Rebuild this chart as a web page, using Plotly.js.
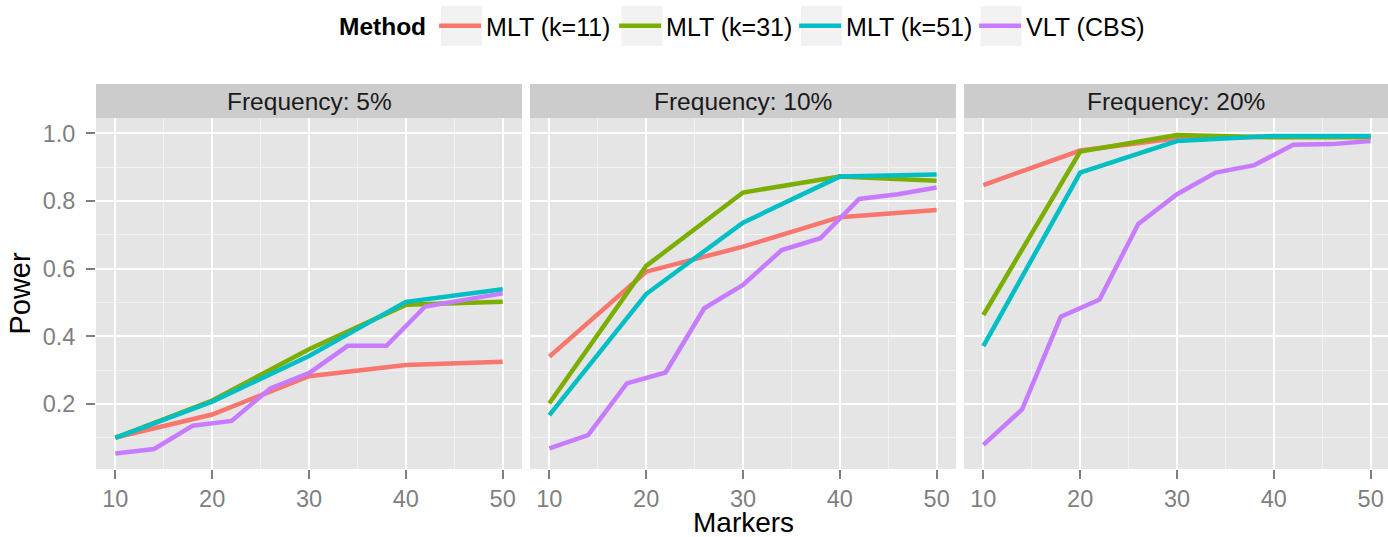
<!DOCTYPE html>
<html><head><meta charset="utf-8">
<script src="https://cdn.plot.ly/plotly-3.0.1.min.js"></script>
<style>html,body{margin:0;padding:0;background:#fff}</style>
</head><body><div id="chart" style="width:1388px;height:537px"></div>
<script>
// ---- data ----
const markersMLT = [10, 20, 30, 40, 50];
const markersVLT = [10, 14, 18, 22, 26, 30, 34, 38, 42, 46, 50];
const methods = ['MLT (k=11)', 'MLT (k=31)', 'MLT (k=51)', 'VLT (CBS)'];
const frequencies = ['Frequency: 5%', 'Frequency: 10%', 'Frequency: 20%'];
const xTicks = [10, 20, 30, 40, 50];

// Frequency 5%
const f5_k11 = [0.101, 0.169, 0.282, 0.315, 0.325];
const f5_k31 = [0.100, 0.210, 0.362, 0.493, 0.502];
const f5_k51 = [0.100, 0.207, 0.342, 0.502, 0.539];
const f5_vlt = [0.054, 0.067, 0.136, 0.150, 0.246, 0.291, 0.372, 0.372, 0.488, 0.507, 0.527];
// Frequency 10%
const f10_k11 = [0.340, 0.591, 0.665, 0.752, 0.773];
const f10_k31 = [0.202, 0.608, 0.825, 0.872, 0.860];
const f10_k51 = [0.167, 0.525, 0.736, 0.872, 0.878];
const f10_vlt = [0.069, 0.108, 0.261, 0.293, 0.483, 0.552, 0.655, 0.690, 0.806, 0.820, 0.840];
// Frequency 20%
const f20_k11 = [0.847, 0.949, 0.985, 0.990, 0.990];
const f20_k31 = [0.463, 0.946, 0.995, 0.988, 0.988];
const f20_k51 = [0.371, 0.884, 0.977, 0.992, 0.992];
const f20_vlt = [0.079, 0.184, 0.458, 0.509, 0.732, 0.820, 0.884, 0.906, 0.966, 0.968, 0.977];

const colors = ['#F8766D', '#7CAE00', '#00BFC4', '#C77CFF'];

const panels = [
  [f5_k11, f5_k31, f5_k51, f5_vlt],
  [f10_k11, f10_k31, f10_k51, f10_vlt],
  [f20_k11, f20_k31, f20_k51, f20_vlt]
];

const traces = [];
panels.forEach((series, p) => {
  series.forEach((vals, m) => {
    traces.push({
      type: 'scatter', mode: 'lines',
      x: m === 3 ? markersVLT : markersMLT,
      y: vals,
      name: methods[m],
      legendgroup: methods[m],
      showlegend: p === 0,
      line: {color: colors[m], width: 4.5},
      xaxis: p === 0 ? 'x' : 'x' + (p + 1),
      yaxis: p === 0 ? 'y' : 'y' + (p + 1),
      hoverinfo: 'x+y+name'
    });
  });
});

// ---- layout ----
const W = 1388, H = 537;
const mL = 96, mR = 0, mT = 118, mB = 68;
const pw = W - mL - mR;           // plotting width
const ph = H - mT - mB;           // plotting height
const panelW = 426, gap = 8;
const dom = [
  [0, panelW / pw],
  [(panelW + gap) / pw, (2 * panelW + gap) / pw],
  [(2 * panelW + 2 * gap) / pw, 1]
];
const pxPerUnit = panelW / 44;
const xr = [
  [8, 52],
  [8, 52],
  [8, 8 + (pw - 2 * panelW - 2 * gap) / pxPerUnit]
];
const yRange = [0.0079, 1.0452];

const tickGrey = '#7f7f7f';
function xAxis(i) {
  return {
    domain: dom[i], range: xr[i], anchor: i === 0 ? 'y' : 'y' + (i + 1),
    tickmode: 'array', tickvals: xTicks, ticktext: xTicks.map(String),
    ticks: 'outside', ticklen: 9, tickwidth: 2, tickcolor: tickGrey,
    tickfont: {size: 23.5, color: tickGrey},
    showgrid: true, gridcolor: '#ffffff', gridwidth: 2,
    minor: {tickmode: 'linear', tick0: 5, dtick: 10, showgrid: true, gridcolor: '#f2f2f2', gridwidth: 1, ticks: ''},
    zeroline: false, showline: false, fixedrange: true
  };
}
function yAxis(i) {
  return {
    domain: [0, 1], range: yRange, anchor: i === 0 ? 'x' : 'x' + (i + 1),
    tickmode: 'linear', tick0: 0, dtick: 0.2, tickformat: '.1f',
    ticks: i === 0 ? 'outside' : '', ticklen: 9, tickwidth: 2, tickcolor: tickGrey,
    showticklabels: i === 0, ticklabelstandoff: 6,
    tickfont: {size: 23.5, color: tickGrey},
    showgrid: true, gridcolor: '#ffffff', gridwidth: 2,
    minor: {tickmode: 'linear', tick0: 0.1, dtick: 0.2, showgrid: true, gridcolor: '#f2f2f2', gridwidth: 1, ticks: ''},
    zeroline: false, showline: false, fixedrange: true
  };
}

const layout = {
  width: W, height: H,
  margin: {l: mL, r: mR, t: mT, b: mB, pad: 0},
  paper_bgcolor: '#ffffff', plot_bgcolor: '#e5e5e5',
  font: {family: 'Liberation Sans, Arial, sans-serif', color: '#000000'},
  showlegend: true,
  legend: {
    orientation: 'h', x: (341 - mL - 4) / pw, xanchor: 'left', y: 1 + (mT - 26) / ph, yanchor: 'middle',
    font: {size: 25, color: '#000000'},
    title: {text: '<b>Method</b>', font: {size: 24.5, color: '#000000'}, side: 'left'},
    itemwidth: 42, entrywidth: 123, entrywidthmode: 'pixels',
    bgcolor: 'rgba(0,0,0,0)', borderwidth: 0, traceorder: 'normal'
  },
  xaxis: xAxis(0), xaxis2: xAxis(1), xaxis3: xAxis(2),
  yaxis: yAxis(0), yaxis2: yAxis(1), yaxis3: yAxis(2),
  shapes: [], annotations: []
};
layout.yaxis.title = {text: 'Power', font: {size: 29, color: '#000000'}, standoff: 3};

// x-axis title shared by the three facets, centred under the middle panel
layout.annotations.push({
  text: 'Markers', xref: 'x2 domain', yref: 'paper',
  x: 0.5, y: -(522 - mT - ph) / ph, xanchor: 'center', yanchor: 'middle',
  showarrow: false, borderpad: 0, font: {size: 28, color: '#000000'}
});

// legend key backgrounds (ggplot-style grey boxes)
const keyLefts = [441, 621.5, 801, 980.5];
keyLefts.forEach(px => {
  layout.shapes.push({
    type: 'rect', xref: 'paper', yref: 'paper',
    x0: (px - mL) / pw, x1: (px + 41 - mL) / pw,
    y0: 1 + (mT - 46) / ph, y1: 1 + (mT - 6) / ph,
    fillcolor: '#f2f2f2', line: {width: 0}, layer: 'above'
  });
});

const stripH = 34 / ph;
frequencies.forEach((f, i) => {
  const xs = i === 0 ? 'x' : 'x' + (i + 1);
  const ys = i === 0 ? 'y' : 'y' + (i + 1);
  layout.shapes.push({
    type: 'rect', xref: xs + ' domain', yref: ys + ' domain',
    x0: 0, x1: 1, y0: 1, y1: 1 + stripH,
    fillcolor: '#cccccc', line: {width: 0}, layer: 'below'
  });
  layout.annotations.push({
    text: f, xref: xs + ' domain', yref: ys + ' domain',
    x: 0.5, y: 1 + stripH / 2, xanchor: 'center', yanchor: 'middle',
    showarrow: false, font: {size: 24.5, color: '#1a1a1a'}
  });
});

Plotly.newPlot('chart', traces, layout, {displayModeBar: false, staticPlot: true});
</script></body></html>
